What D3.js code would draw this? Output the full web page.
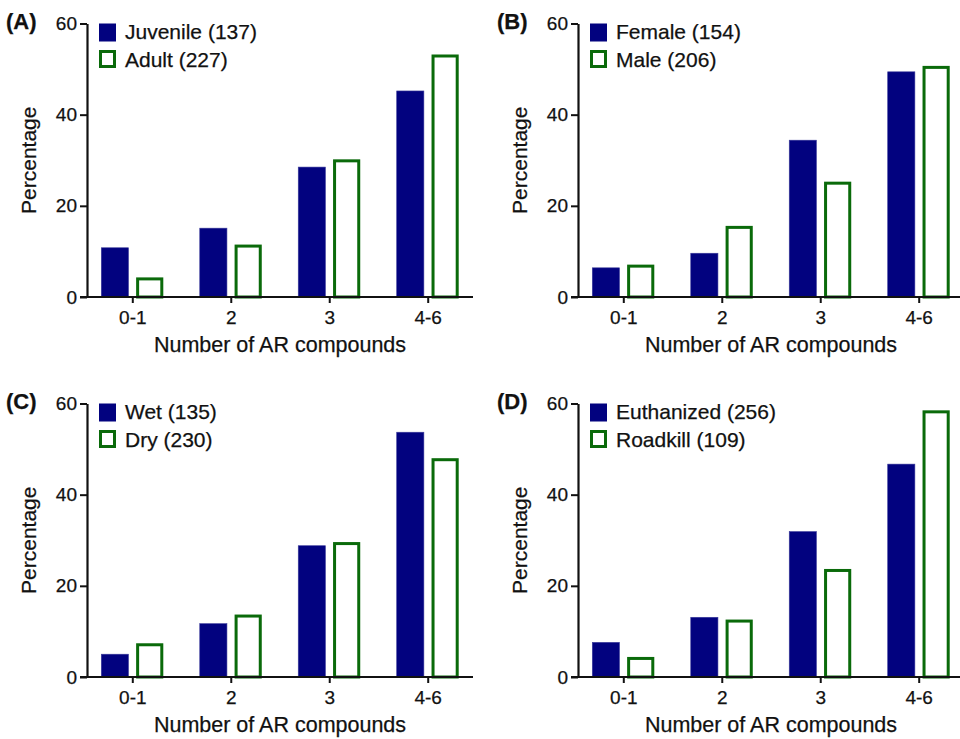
<!DOCTYPE html>
<html>
<head>
<meta charset="utf-8">
<script src="https://cdn.jsdelivr.net/npm/d3@7"></script>
<style>
  body { margin: 0; background: #fff; }
  text { font-family: Arial, "Liberation Sans", sans-serif; fill: #111; stroke: #111; stroke-width: 0.25px; }
</style>
</head>
<body>
<svg id="chart" width="960" height="739"></svg>
<script>
const categories = ["0-1", "2", "3", "4-6"];
const yTicks = [0, 20, 40, 60];

const juvenile = [10.8, 15.1, 28.5, 45.2];
const adult = [4.3, 11.5, 30.2, 53.2];
const female = [6.4, 9.6, 34.4, 49.4];
const male = [7.1, 15.6, 25.3, 50.7];
const wet = [5.0, 11.7, 28.8, 53.7];
const dry = [7.4, 13.7, 29.6, 48.0];
const euthanized = [7.6, 13.1, 31.9, 46.7];
const roadkill = [4.4, 12.6, 23.7, 58.5];

const panelLetters = ["(A)", "(B)", "(C)", "(D)"];
const legendFilled = ["Juvenile (137)", "Female (154)", "Wet (135)", "Euthanized (256)"];
const legendOpen = ["Adult (227)", "Male (206)", "Dry (230)", "Roadkill (109)"];
const filledSeries = [juvenile, female, wet, euthanized];
const openSeries = [adult, male, dry, roadkill];

const NAVY = "#02027f";
const GREEN = "#0a6a0a";

let svg = d3.select("#chart");

// panel offsets
let offsets = [[0, 0], [491, 0], [0, 380], [491, 380]];

let plotLeft = 87, plotRight = 473, plotTop = 23.5, plotBottom = 297;

let y = d3.scaleLinear().domain([0, 60]).range([plotBottom, plotTop]);
let x = d3.scalePoint().domain(categories).range([plotLeft, plotRight]).padding(0.46);
let inner = d3.scaleBand().domain([0, 1]).range([-31, 31]).paddingInner(0.22);

offsets.forEach((off, i) => {
  let g = svg.append("g").attr("transform", `translate(${off[0]},${off[1]})`);

  // bars
  let rows = categories.map((c, j) => ({ cat: c, a: filledSeries[i][j], b: openSeries[i][j] }));

  g.selectAll("rect.filled")
    .data(rows)
    .enter()
    .append("rect")
    .attr("class", "filled")
    .attr("x", (d) => x(d.cat) + inner(0))
    .attr("y", (d) => y(d.a))
    .attr("width", inner.bandwidth())
    .attr("height", (d) => y(0) - y(d.a))
    .attr("fill", NAVY)
    .attr("stroke", "#3a3a9a")
    .attr("stroke-width", 0.6);

  g.selectAll("rect.open")
    .data(rows)
    .enter()
    .append("rect")
    .attr("class", "open")
    .attr("x", (d) => x(d.cat) + inner(1) + 1.5)
    .attr("y", (d) => y(d.b) + 1.5)
    .attr("width", inner.bandwidth() - 3)
    .attr("height", (d) => y(0) - y(d.b) - 1.5)
    .attr("fill", "#fff")
    .attr("stroke", GREEN)
    .attr("stroke-width", 3);

  // y axis
  let yAxis = g.append("g")
    .attr("transform", `translate(${plotLeft},0)`)
    .call(d3.axisLeft(y).tickValues(yTicks).tickSize(7).tickPadding(3).tickSizeOuter(0));
  yAxis.select(".domain").attr("stroke", "#111").attr("stroke-width", 2.2);
  yAxis.selectAll(".tick line").attr("stroke", "#111").attr("stroke-width", 2);
  yAxis.selectAll(".tick text").style("font-size", "19px").attr("fill", "#111");

  // x axis
  let xAxis = g.append("g")
    .attr("transform", `translate(0,${plotBottom})`)
    .call(d3.axisBottom(x).tickSize(6).tickPadding(8).tickSizeOuter(0));
  xAxis.select(".domain").remove();
  xAxis.selectAll(".tick line").attr("stroke", "#111").attr("stroke-width", 2);
  xAxis.selectAll(".tick text").style("font-size", "19px").attr("fill", "#111");
  g.append("line")
    .attr("x1", plotLeft - 7).attr("x2", plotRight)
    .attr("y1", plotBottom).attr("y2", plotBottom)
    .attr("stroke", "#111").attr("stroke-width", 2.2);

  // axis titles
  g.append("text")
    .attr("x", (plotLeft + plotRight) / 2)
    .attr("y", 352)
    .attr("text-anchor", "middle")
    .style("font-size", "21.5px")
    .text("Number of AR compounds");

  g.append("text")
    .attr("transform", `translate(36,${(plotTop + plotBottom) / 2}) rotate(-90)`)
    .attr("text-anchor", "middle")
    .style("font-size", "21px")
    .text("Percentage");

  // panel letter
  g.append("text")
    .attr("x", 6)
    .attr("y", 29)
    .style("font-size", "22px")
    .style("font-weight", "bold")
    .text(panelLetters[i]);

  // legend
  let lg = g.append("g").attr("transform", `translate(${plotLeft + 12},0)`);
  lg.append("rect")
    .attr("x", 0).attr("y", 23.5).attr("width", 17).attr("height", 18)
    .attr("fill", NAVY);
  lg.append("text")
    .attr("x", 26).attr("y", 39)
    .style("font-size", "21px")
    .text(legendFilled[i]);
  lg.append("rect")
    .attr("x", 1.5).attr("y", 51.5).attr("width", 14).attr("height", 15)
    .attr("fill", "#fff").attr("stroke", GREEN).attr("stroke-width", 3);
  lg.append("text")
    .attr("x", 26).attr("y", 66.5)
    .style("font-size", "21px")
    .text(legendOpen[i]);
});
</script>
</body>
</html>
